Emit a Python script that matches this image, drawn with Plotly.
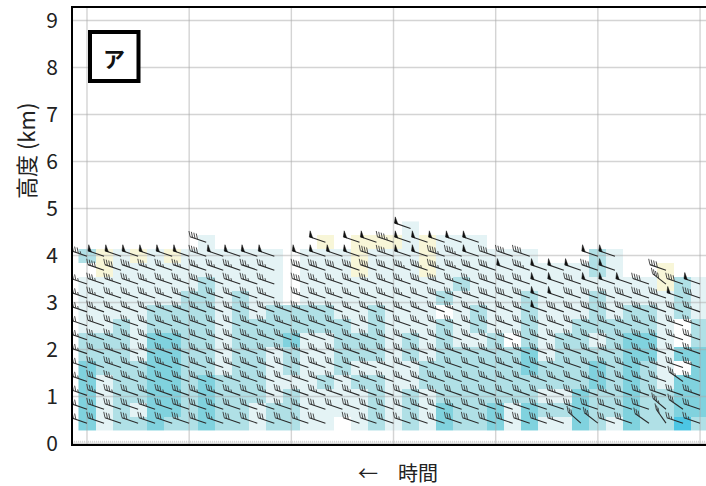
import math
import plotly.graph_objects as go

# heights of the cell edges (km), bottom to top
height_edges = [0.285, 0.581, 0.877, 1.173, 1.469, 1.765, 2.061, 2.357, 2.653, 2.949, 3.245, 3.541, 3.837, 4.133, 4.429, 4.725]
y_ticks = [0, 1, 2, 3, 4, 5, 6, 7, 8, 9]
time_ticks = [0, 6, 12, 18, 24, 30, 36]

# reflectivity class per cell: top row first, columns in groups of six
# 0 none, 1 yellow, 2 pale, 3 light, 4 medium, 5 strong
level_rows = [
    "000000 000000 000000 020000 000000 000000 0",
    "000000 020000 001011 121222 000000 000000 0",
    "312121 222222 022212 221222 222000 320000 0",
    "012222 222222 022212 221222 222222 320010 0",
    "222222 232222 022222 222232 222222 222213 2",
    "222222 332322 022222 222322 223222 322223 2",
    "222233 332323 333223 222023 223222 323323 2",
    "223233 332333 333323 222323 223223 333320 3",
    "333244 332333 422333 232322 303233 234420 3",
    "333244 332332 322333 232333 334233 334424 4",
    "433344 332332 322322 223333 334333 434320 4",
    "423344 343332 223233 223333 333333 434324 4",
    "423344 343332 322223 232333 333224 334334 4",
    "423244 343323 322223 232433 424334 334334 4",
    "423343 343323 322023 232433 424224 324335 3",
]
# wind speed per cell, in 5-knot units: F is a 50-knot flag, a dot is no barb
speed_rows = [
    "...... ...... ...... .F.... ...... ...... .",
    "...... .8.... ..F.FF 9FFFFF ...... ...... .",
    "9FFFFF F8FFFF .FFFF8 8FF99F 888... FF.... .",
    ".88877 777777 .88888 899998 8F9FFF 8F..8. .",
    "777777 787777 .87777 778877 888FF8 FFF888 F",
    "777777 777777 .77777 776877 888FF8 88888F 8",
    "777777 777777 777777 777777 777F88 888888 7",
    "666777 777677 777766 667777 777777 777767 7",
    "777776 767777 776777 777767 678777 777867 7",
    "767777 776777 777777 777777 777766 786776 7",
    "677777 677777 677677 777666 677766 777776 7",
    "767776 776777 677767 777776 776776 767777 6",
    "777677 777767 677676 667766 667677 776766 7",
    "666676 767666 676666 667676 666666 666676 6",
    "666656 665666 656.66 656666 666656 666665 5",
]
# staff tilt in degrees; a few cells lean more steeply than the rest
default_tilt = 19
steep_rows = [14, 14, 14, 13, 14, 4, 13, 11]
steep_cols = [34, 29, 30, 34, 33, 34, 35, 35]
steep_tilt = [55, 42, 38, 40, 35, 38, 35, 35]

level_colors = ["#ffffff", "#f8f6d8", "#e4f3f5", "#b0e0e6", "#80d2de", "#4cc6e4"]

levels = [[int(ch) for ch in row.replace(" ", "")] for row in level_rows][::-1]
speeds = [list(row.replace(" ", "")) for row in speed_rows][::-1]
n_rows, n_cols = len(levels), len(levels[0])
row_centers = [(height_edges[i] + height_edges[i + 1]) / 2 for i in range(n_rows)]
tilts = {(n_rows - 1 - r, c): t for r, c, t in zip(steep_rows, steep_cols, steep_tilt)}

PX_X, PX_Y = 17.03, 47.0     # pixels per column, pixels per km
STAFF, LONG_W, LONG_H, STEP = 17.0, 1.2, 5.8, 2.6

lx, ly, hx, hy, fx, fy = [], [], [], [], [], []
for r in range(n_rows):
    for c in range(n_cols):
        code = speeds[r][c]
        if code == ".":
            continue
        a = math.radians(tilts.get((r, c), default_tilt))
        ux, uy = -math.cos(a), math.sin(a)      # toward the tail, y up
        bx, by = float(c), row_centers[r]
        tx, ty = STAFF * ux, STAFF * uy          # tail, pixels from base
        lx += [bx, bx + tx / PX_X, None]
        ly += [by, by + ty / PX_Y, None]
        if code == "F":
            pts = [(tx, ty), (tx - 3.6 * ux, ty - 3.6 * uy), (tx + 0.8, ty + 6), (tx, ty)]
            fx += [bx + p[0] / PX_X for p in pts] + [None]
            fy += [by + p[1] / PX_Y for p in pts] + [None]
            continue
        units = int(code)
        n_long, half = units // 2, units % 2
        for k in range(n_long + half):
            sx, sy = tx - k * STEP * ux, ty - k * STEP * uy
            scale = 0.5 if k == n_long else 1.0
            hx += [bx + sx / PX_X, bx + (sx - LONG_W * scale) / PX_X, None]
            hy += [by + sy / PX_Y, by + (sy + LONG_H * scale) / PX_Y, None]

n = len(level_colors)
scale = []
for i, col in enumerate(level_colors):
    scale += [[i / n, col], [(i + 1) / n, col]]

fig = go.Figure()
fig.add_trace(go.Heatmap(
    z=levels,
    x=list(range(n_cols)),
    y=height_edges,
    colorscale=scale, zmin=-0.5, zmax=5.5, showscale=False, hoverinfo="skip",
))
# grid sits over the cells
grid_x, grid_y = [], []
for t in time_ticks:
    grid_x += [t, t, None]
    grid_y += [-1, 10, None]
for v in y_ticks:
    grid_x += [-5, 40, None]
    grid_y += [v, v, None]
fig.add_trace(go.Scatter(x=grid_x, y=grid_y, mode="lines",
                         line=dict(color="rgba(170,170,170,0.5)", width=1.4), hoverinfo="skip"))
fig.add_trace(go.Scatter(x=[-5, 40], y=[0.04, 0.04], mode="lines",
                         line=dict(color="#cfcfcf", width=2, dash="1px,1px"), hoverinfo="skip"))
fig.add_trace(go.Scatter(x=lx, y=ly, mode="lines", line=dict(color="#2a2a2a", width=1.1), hoverinfo="skip"))
fig.add_trace(go.Scatter(x=hx, y=hy, mode="lines", line=dict(color="#3a3a3a", width=0.9), hoverinfo="skip"))
fig.add_trace(go.Scatter(x=fx, y=fy, mode="lines", fill="toself", fillcolor="#111111",
                         line=dict(color="#111111", width=0.5), hoverinfo="skip"))

FONT = "Noto Sans CJK JP"
fig.update_layout(
    width=706, height=486,
    margin=dict(l=73, r=0, t=8, b=42),
    paper_bgcolor="white", plot_bgcolor="white",
    showlegend=False,
    font=dict(family=FONT, color="#222222"),
    xaxis=dict(range=[-0.822, 36.35], showgrid=False, zeroline=False, showticklabels=False,
               ticks="", showline=True, linecolor="black", linewidth=2, mirror=True),
    yaxis=dict(range=[-0.01, 9.267], tickvals=y_ticks, showgrid=False, zeroline=False,
               ticks="outside", ticklen=9, tickcolor="rgba(0,0,0,0)",
               tickfont=dict(size=21, family=FONT, color="#222222"),
               showline=True, linecolor="black", linewidth=2),
    shapes=[
        dict(type="rect", xref="paper", yref="paper",
             x0=(90 - 73) / 633, x1=(138.5 - 73) / 633,
             y0=1 - (81 - 8) / 436, y1=1 - (32 - 8) / 436,
             line=dict(color="black", width=4), fillcolor="white", layer="above"),
    ],
    annotations=[
        dict(text="<b>ア</b>", xref="paper", yref="paper", x=(114 - 73) / 633, y=1 - (57 - 8) / 436,
             xanchor="center", yanchor="middle",
             showarrow=False, font=dict(size=22, family=FONT, color="#111111")),
        dict(text="←　時間", xref="paper", yref="paper", x=(398 - 73) / 633, y=1 - (472 - 8) / 436,
             xanchor="center", yanchor="middle",
             showarrow=False, font=dict(size=20, family=FONT, color="#222222")),
        dict(text="高度 (km)", xref="paper", yref="paper", x=(25 - 73) / 633, y=1 - (151 - 8) / 436,
             xanchor="center", yanchor="middle",
             textangle=-90, showarrow=False, font=dict(size=22, family=FONT, color="#222222")),
    ],
)
fig.write_html("out.html", post_script="document.body.style.margin='0';",
               config={"displayModeBar": False})
